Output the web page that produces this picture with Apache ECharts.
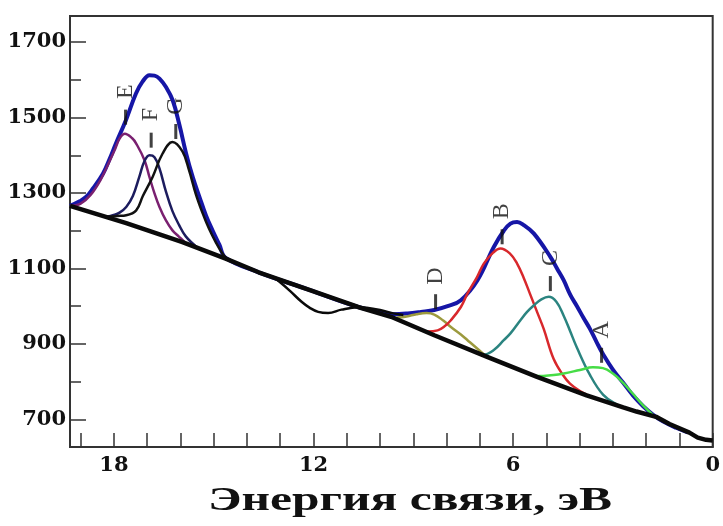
<!DOCTYPE html>
<html>
<head>
<meta charset="utf-8">
<script src="https://cdn.jsdelivr.net/npm/echarts@6/dist/echarts.min.js"></script>
<style>html,body{margin:0;padding:0;background:#fff}#c{width:723px;height:526px}</style>
</head>
<body>
<div id="c"></div>
<script>
// ---- data ----
const xTickValues = [0,1,2,3,4,5,6,7,8,9,10,11,12,13,14,15,16,17,18,19];
const xLabelValues = [0,6,12,18];
const yMajorValues = [700,900,1100,1300,1500,1700];
const yMinorValues = [800,1000,1200,1400,1600];

const envX = [19.32,19.03,18.83,18.63,18.33,18.13,17.94,17.64,17.34,17.14,16.93,16.78,16.63,16.43,16.23,16.03,15.83,15.63,15.43,15.23,15.03,14.83,14.64,13.65,12.15,10.66,10.06,9.6,9.17,8.77,8.37,7.97,7.57,7.07,6.58,6.28,6.08,5.88,5.68,5.38,4.88,4.68,4.48,4.28,4.08,3.89,3.69,3.49,3.29,3.0,2.69,2.39,2.09,1.8,1.5,1.1,0.75];
const envY = [1266,1278,1290,1312,1351,1390,1431,1493,1563,1595,1612,1611,1603,1580,1545,1480,1405,1342,1290,1240,1200,1163,1128,1090,1044,998,986,979,981,985,990,1000,1016,1069,1157,1200,1219,1223,1215,1193,1131,1100,1069,1030,1000,970,940,905,872,832,797,763,735,713,695,678,666];

const baseX = [19.32,17.63,15.94,14.64,13.65,12.15,10.66,9.67,8.37,6.78,5.28,3.79,2.69,2.29,1.70,1.30,0.70,0.45,0.2,0];
const baseY = [1266,1220,1170,1126,1090,1044,998,972,923,866,813,764,732,721,707,688,665,652,646,644];

const dipX = [13.2,13.04,12.7,12.35,12.1,11.86,11.56,11.16,10.66,10.4,10.0,9.6,9.3];
const dipY = [1076,1066,1040,1011,995,985,982,991,997,996,990,981,977];

const eX = [19.32,19.0,18.7,18.4,18.1,17.98,17.83,17.67,17.45,17.33,17.08,16.93,16.78,16.63,16.44,16.24,16.04,15.85];
const eY = [1266,1272,1295,1335,1390,1413,1444,1457,1445,1431,1387,1342,1299,1263,1228,1201,1184,1168];

const fX = [18.2,18.03,17.83,17.63,17.43,17.23,17.08,16.93,16.78,16.63,16.44,16.24,16.04,15.84,15.5];
const fY = [1237,1241,1248,1263,1292,1345,1385,1400,1395,1365,1305,1252,1215,1185,1156];

const gX = [18.2,17.9,17.63,17.33,17.13,16.84,16.54,16.24,15.94,15.74,15.54,15.34,15.14,14.94,14.74,14.6];
const gY = [1237,1239,1241,1254,1292,1342,1404,1435,1410,1360,1298,1248,1205,1170,1140,1126];

const dX = [9.5,9.2,8.9,8.6,8.37,8.1,7.87,7.57,7.37,7.08,6.85];
const dY = [970,973,979,982,978,962,945,925,910,888,870];

const bX = [8.9,8.57,8.27,8.07,7.87,7.57,7.37,7.08,6.88,6.6,6.38,6.1,5.88,5.68,5.48,5.28,5.08,4.78,4.48,4.29,3.99,3.7];
const bY = [944,933,936,946,963,998,1034,1078,1113,1142,1153,1140,1113,1075,1030,985,940,860,815,795,775,762];

const cX = [7.3,6.88,6.58,6.28,6.08,5.78,5.58,5.38,5.15,4.93,4.7,4.48,4.29,4.09,3.69,3.29,2.89,2.6];
const cY = [884,872,884,910,928,963,985,1002,1018,1025,1012,975,935,892,818,765,740,730];

const aX = [5.6,5.28,4.78,4.48,3.99,3.6,3.3,3.0,2.69,2.4,2.1,1.8];
const aY = [824,815,818,822,831,838,836,822,797,768,738,712];

const peakNames = ['E','F','G','D','B','C','A'];
const peakX = [17.65,16.88,16.14,8.33,6.33,4.88,3.34];
const peakY = [1501,1440,1463,1012,1184,1060,870];

const xTitle = 'Энергия связи, эВ';

// ---- chart ----
const zip = (xs, ys) => xs.map((x, i) => [x, ys[i]]);
const chart = echarts.init(document.getElementById('c'), null, {renderer: 'canvas'});
const YMIN = 627, YMAX = 1769;
const labelFont = {fontFamily: 'DejaVu Serif', fontWeight: 'bold', fontSize: 21, color: '#111'};

function line(name, xs, ys, color, width, z, smooth) {
  return {
    name, type: 'line', data: zip(xs, ys), showSymbol: false, symbol: 'none',
    smooth: smooth, z: z, lineStyle: {color, width}, silent: true, animation: false
  };
}

const option = {
  animation: false,
  backgroundColor: '#fff',
  grid: {left: 70, right: 6, top: 16, bottom: 79, show: true, borderColor: '#333', borderWidth: 2, backgroundColor: 'transparent'},
  xAxis: {
    type: 'value', inverse: true, min: 0, max: 19.32,
    axisLine: {show: true, onZero: false, lineStyle: {color: '#333', width: 2}},
    axisTick: {show: true, inside: true, length: 14, customValues: xTickValues, lineStyle: {color: '#333', width: 1.5}},
    axisLabel: {show: true, customValues: xLabelValues, margin: 8, formatter: v => String(v), ...labelFont},
    splitLine: {show: false}
  },
  yAxis: [{
    type: 'value', min: YMIN, max: YMAX, position: 'left', offset: 0,
    axisLine: {show: true, onZero: false, lineStyle: {color: '#333', width: 2}},
    axisTick: {show: true, inside: true, length: 16, customValues: yMajorValues, lineStyle: {color: '#333', width: 1.5}},
    axisLabel: {show: true, customValues: yMajorValues, margin: 4, formatter: v => String(v), ...labelFont},
    splitLine: {show: false}
  }, {
    type: 'value', min: YMIN, max: YMAX, position: 'left', offset: 0,
    axisLine: {show: false, onZero: false},
    axisTick: {show: true, inside: true, length: 11, customValues: yMinorValues, lineStyle: {color: '#333', width: 1.5}},
    axisLabel: {show: false},
    splitLine: {show: false}
  }],
  graphic: [{
    type: 'text', x: 410, y: 501, scaleX: 1.5, scaleY: 1,
    style: {text: xTitle, x: 0, y: 0, textAlign: 'center', textVerticalAlign: 'middle', fontFamily: 'Liberation Serif', fontWeight: 'bold', fontSize: 33, fill: '#111'}
  }],
  series: [
    line('envelope', envX, envY, '#1616a6', 4, 2, 0.4),
    line('E', eX, eY, '#7a2070', 2.5, 3, 0.4),
    line('F', fX, fY, '#1c1c5e', 2.5, 3, 0.4),
    line('G', gX, gY, '#111111', 2.5, 3, 0.4),
    line('D', dX, dY, '#9c9a3e', 2.5, 3, 0.4),
    line('B', bX, bY, '#d8282c', 2.5, 3, 0.4),
    line('C', cX, cY, '#2b8480', 2.5, 3, 0.4),
    line('A', aX, aY, '#46dc46', 2.5, 3, 0.4),
    line('baseline', baseX, baseY, '#0a0a0a', 4.5, 4, false),
    line('spectrum', dipX, dipY, '#0a0a0a', 2.5, 4, 0.4),
    {
      type: 'scatter', z: 6, silent: true, animation: false,
      symbol: 'rect', symbolSize: [3, 15],
      itemStyle: {color: '#111'},
      data: peakX.map((x, i) => ({value: [x, peakY[i]], name: peakNames[i]})),
      label: {
        show: true, formatter: p => p.name, rotate: 90,
        position: [1.5, -18], align: 'center', verticalAlign: 'middle',
        fontFamily: 'Liberation Serif', fontSize: 24, color: '#111'
      }
    }
  ]
};
chart.setOption(option);
</script>
</body>
</html>
